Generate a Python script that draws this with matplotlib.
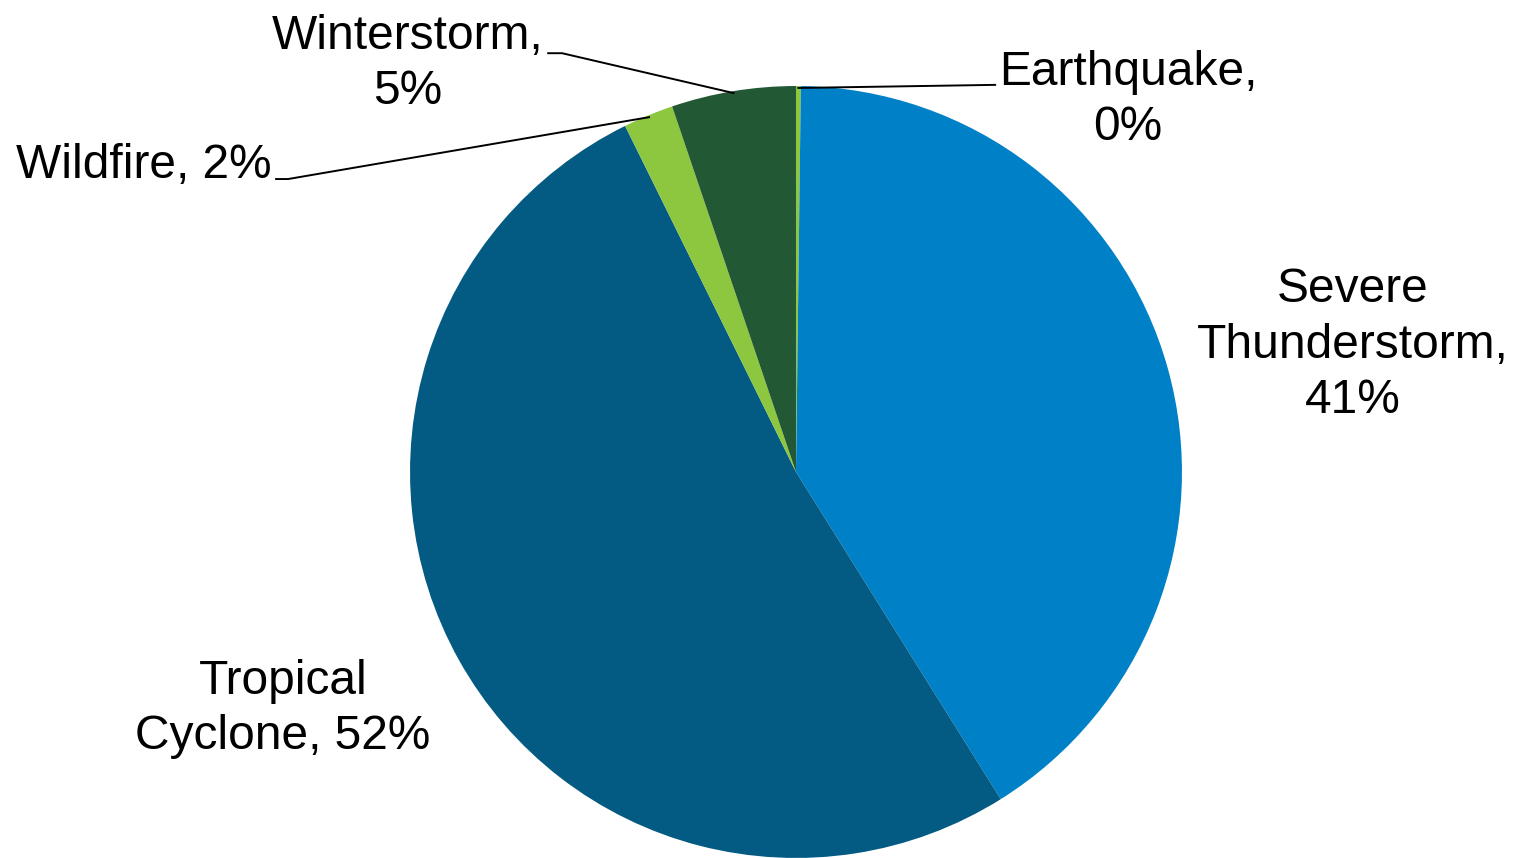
import numpy as np
import matplotlib
matplotlib.use("Agg")
import matplotlib.pyplot as plt

plt.rcParams['font.family'] = ['Liberation Sans', 'DejaVu Sans']

# Share of insured losses by peril (percent)
perils = ["Earthquake", "Severe\nThunderstorm", "Tropical\nCyclone", "Wildfire", "Winterstorm"]
shares = [0.2, 40.9, 51.6, 2.1, 5.2]
colors = ["#8DC63F", "#0080C6", "#035A82", "#8DC63F", "#235835"]

# Label layout (data units, pie radius = 1)
label_pos = [(0.860, 0.964), (1.443, 0.329), (-1.329, -0.614), (-1.358, 0.795), (-1.005, 1.058)]
label_sep = [",\n", ",\n", ", ", ", ", ",\n"]
label_ha = ["center", "center", "center", "right", "center"]
# Leader lines: elbow point and end point near the label (None = no leader)
leaders = [
    [(0.516, 1.003)],
    None,
    None,
    [(-1.316, 0.759), (-1.347, 0.759)],
    [(-0.606, 1.085), (-0.642, 1.085)],
]

fig = plt.figure(figsize=(15.13, 8.58), dpi=100)
ax = fig.add_axes([0.271, 0.0, 0.5102, 0.8998])
wedges, _ = ax.pie(shares, colors=colors, startangle=90, counterclock=False,
                   radius=1.0, center=(0, 0), frame=True)
ax.set_xlim(-1, 1)
ax.set_ylim(-1, 1)
ax.set_axis_off()

total = sum(shares)
for w, name, val, pos, sep, ha, lead in zip(wedges, perils, shares, label_pos,
                                            label_sep, label_ha, leaders):
    pct = f"{val / total * 100:.0f}%"
    ax.text(pos[0], pos[1], f"{name}{sep}{pct}", ha=ha, va="center",
            multialignment="center", fontsize=34.5, color="black",
            linespacing=1.29, clip_on=False)
    if lead:
        mid = np.deg2rad((w.theta1 + w.theta2) / 2)
        xs = [np.cos(mid) * 0.995] + [p[0] for p in lead]
        ys = [np.sin(mid) * 0.995] + [p[1] for p in lead]
        ax.plot(xs, ys, color="black", lw=1.4, clip_on=False, zorder=5)

fig.savefig("out.png", dpi=100, facecolor="white")
